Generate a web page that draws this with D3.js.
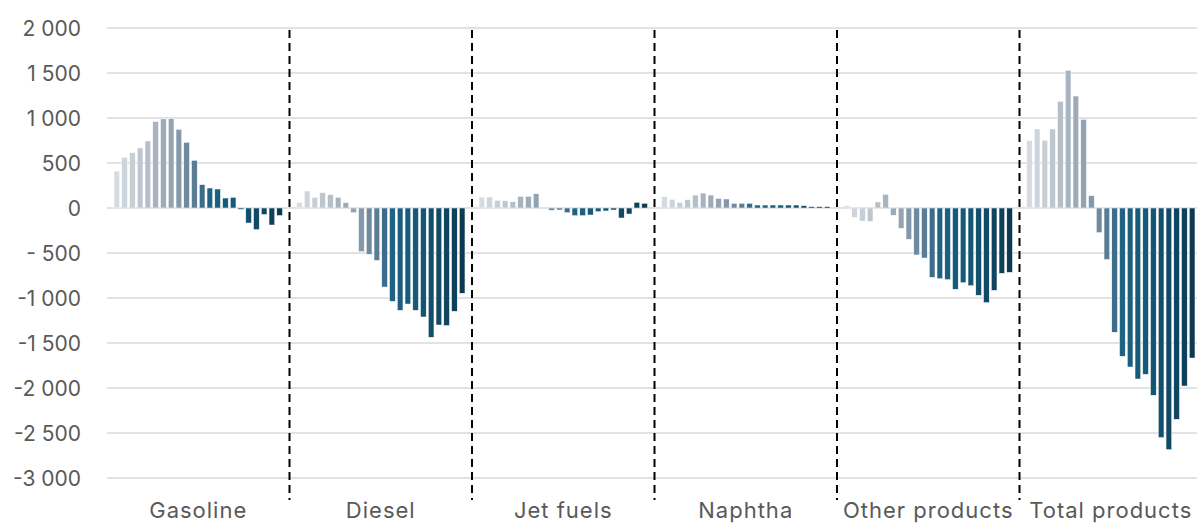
<!DOCTYPE html>
<html><head><meta charset="utf-8">
<script src="https://cdn.jsdelivr.net/npm/d3@7/dist/d3.min.js"></script>
<style>html,body{margin:0;padding:0;background:#fff;}svg{display:block;font-family:Inter,"Open Sans",sans-serif;}</style>
</head><body>
<svg id="chart" width="1197" height="525"></svg>
<script>
const categories = ["Gasoline","Diesel","Jet fuels","Naphtha","Other products","Total products"];
const gasoline = [410,563,615,667,745,960,990,993,874,730,530,260,222,211,111,119,-15,-167,-240,-73,-189,-84];
const diesel   = [63,189,119,170,148,119,59,-52,-485,-515,-582,-878,-1037,-1137,-1067,-1137,-1211,-1437,-1300,-1307,-1148,-948];
const jetFuels = [122,122,85,81,70,130,130,159,0,-26,-22,-52,-85,-85,-78,-41,-33,-22,-111,-67,63,52];
const naphtha  = [126,96,63,92,144,166,144,107,100,52,52,52,33,33,33,33,33,33,26,15,15,15];
const otherProducts = [25,-104,-145,-148,67,151,-81,-226,-348,-522,-556,-770,-785,-796,-903,-830,-863,-970,-1052,-915,-726,-715];
const totalProducts = [749,878,752,878,1186,1530,1244,985,137,-274,-572,-1381,-1648,-1767,-1900,-1848,-2081,-2551,-2685,-2348,-1978,-1667];
const seriesValues = [gasoline, diesel, jetFuels, naphtha, otherProducts, totalProducts];
const yTicks = [2000,1500,1000,500,0,-500,-1000,-1500,-2000,-2500,-3000];
const yTickLabels = ["2 000","1 500","1 000","500","0","- 500","-1 000","-1 500","-2 000","-2 500","-3 000"];

const palette = ["#d5dbe1","#cdd4db","#c6ced6","#bec7d0","#b4bfc9","#a7b4c0","#9dabb9","#93a3b2",
  "#8399ab","#6f8aa0","#5b7c95","#3b6c8b","#1f6283","#1a5f80","#175b7b","#165a79","#145574",
  "#124f6c","#104a66","#0f4560","#0d4059","#0b3a52"];

const svg = d3.select("#chart");
const y = d3.scaleLinear().domain([-3000,2000]).range([478,28]);
const x0 = d3.scaleBand().domain(categories).range([107,1202]).padding(0);
const x1 = d3.scaleBand().domain(d3.range(22)).range([0,x0.bandwidth()]).paddingInner(0.265).paddingOuter(0.906);

// gridlines
svg.append("g").selectAll("line").data(yTicks).join("line")
  .attr("x1",107).attr("x2",1197)
  .attr("y1",d=>y(d)).attr("y2",d=>y(d))
  .attr("stroke","#d9d9d9").attr("stroke-width",1.5);

// y tick labels
svg.append("g").selectAll("text").data(yTicks).join("text")
  .attr("x",81).attr("y",d=>y(d)).attr("dy","0.36em")
  .attr("text-anchor","end").attr("fill","#595959").attr("font-size",21)
  .text((d,i)=>yTickLabels[i]);

// bars
const groups = svg.append("g").selectAll("g").data(categories).join("g")
  .attr("transform",d=>`translate(${x0(d)},0)`);
groups.selectAll("rect").data((d,i)=>seriesValues[i].map((v,j)=>({v,j}))).join("rect")
  .attr("x",d=>x1(d.j)).attr("width",x1.bandwidth())
  .attr("y",d=>Math.min(y(d.v),y(0)))
  .attr("height",d=>Math.abs(y(d.v)-y(0)))
  .attr("fill",d=>palette[d.j])
  .attr("stroke","#ffffff").attr("stroke-width",0.5);

// separators
svg.append("g").selectAll("line").data(categories.slice(1)).join("line")
  .attr("x1",d=>x0(d)).attr("x2",d=>x0(d))
  .attr("y1",30).attr("y2",500)
  .attr("stroke","#000").attr("stroke-width",2).attr("stroke-dasharray","8,5");

// category labels
svg.append("g").selectAll("text").data(categories).join("text")
  .attr("x",d=>x0(d)+x0.bandwidth()/2).attr("y",518)
  .attr("text-anchor","middle").attr("fill","#595959").attr("font-size",22)
  .attr("letter-spacing","1px")
  .text(d=>d);
</script>
</body></html>
